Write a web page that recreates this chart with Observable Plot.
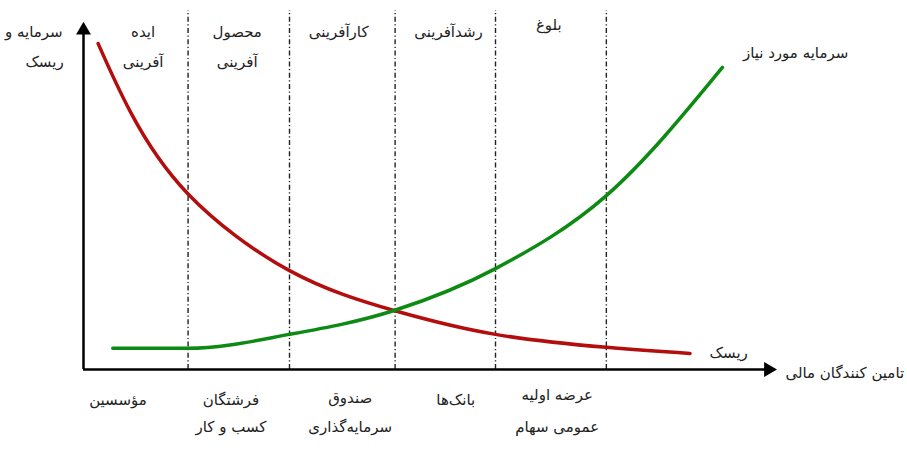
<!DOCTYPE html>
<html><head><meta charset="utf-8">
<script src="https://cdn.jsdelivr.net/npm/d3@7"></script>
<script src="https://cdn.jsdelivr.net/npm/@observablehq/plot@0.6"></script>
<style>body{margin:0;background:#fff;overflow:hidden}</style>
</head><body><div id="chart"></div>
<script>
// Risk curve (red)
const riskX = [0.14, 0.45, 1.00, 1.97, 2.97, 3.94, 5.00, 5.80];
const riskY = [9.56, 7.55, 5.15, 2.90, 1.73, 1.03, 0.65, 0.47];
// Required capital curve (green)
const capX = [0.28, 1.00, 1.97, 2.97, 3.94, 5.00, 6.11];
const capY = [0.62, 0.62, 1.03, 1.73, 2.96, 5.10, 8.86];
// Stage boundaries
const stageBounds = [1.00, 1.97, 2.98, 3.94, 5.00];
// Labels
const labelText = ["ایده", "آفرینی", "محصول", "آفرینی", "کارآفرینی", "رشدآفرینی", "بلوغ",
  "سرمایه مورد نیاز", "ریسک", "تامین کنندگان مالی",
  "مؤسسین", "فرشتگان", "کسب و کار", "صندوق", "سرمایه‌گذاری", "خطرپذیر", "بانک‌ها", "عرضه اولیه", "عمومی سهام"];
const labelX = [0.57, 0.57, 1.47, 1.47, 2.44, 3.49, 4.45,
  6.81, 6.17, 7.28,
  0.33, 1.41, 1.41, 2.55, 2.55, 2.55, 3.56, 4.53, 4.53];
const labelY = [9.88, 9.00, 9.88, 9.00, 9.88, 9.88, 10.09,
  9.27, 0.47, -0.12,
  -0.91, -0.91, -1.70, -0.85, -1.70, -2.55, -0.91, -0.76, -1.70];
const axisLabelText = ["سرمایه و", "ریسک"];
const axisLabelX = [-0.20, -0.19];
const axisLabelY = [9.88, 9.00];
const xAxisEnd = 6.55, yAxisEnd = 9.95;

const risk = riskX.map((x, i) => ({x, y: riskY[i]}));
const cap = capX.map((x, i) => ({x, y: capY[i]}));
const labels = labelText.map((t, i) => ({t, x: labelX[i], y: labelY[i]}));
const axisLabels = axisLabelText.map((t, i) => ({t, x: axisLabelX[i], y: axisLabelY[i]}));

const font = "DejaVu Sans";
const chart = Plot.plot({
  width: 907, height: 450,
  marginLeft: 83, marginRight: 0, marginTop: 10, marginBottom: 81,
  x: {domain: [0, 7.88], axis: null},
  y: {domain: [0, 10.53], axis: null},
  style: {fontFamily: font, background: "white"},
  marks: [
    Plot.ruleX(stageBounds, {y1: 0, y2: 10.53, stroke: "#222", strokeWidth: 1.4, strokeDasharray: "5,2.5,1.2,2.5"}),
    Plot.ruleY([0], {x1: 0, x2: xAxisEnd, stroke: "black", strokeWidth: 2.5}),
    Plot.ruleX([0], {y1: 0, y2: yAxisEnd, stroke: "black", strokeWidth: 2.5}),
    Plot.dot([{x: 0, y: yAxisEnd}], {x: "x", y: "y", symbol: "triangle", r: 5.5, fill: "black", stroke: null}),
    Plot.dot([{x: xAxisEnd, y: 0}], {x: "x", y: "y", symbol: "triangle", r: 5.5, fill: "black", stroke: null, rotate: 90}),
    Plot.line(risk, {x: "x", y: "y", curve: "natural", stroke: "#b30d0d", strokeWidth: 3.5}),
    Plot.line(cap, {x: "x", y: "y", curve: "monotone-x", stroke: "#0c8a12", strokeWidth: 3.5}),
    Plot.text(labels, {x: "x", y: "y", text: "t", fontSize: 15, fill: "#222", fontFamily: font}),
    Plot.text(axisLabels, {x: "x", y: "y", text: "t", fontSize: 15, fill: "#222", textAnchor: "end", fontFamily: font})
  ]
});
document.getElementById("chart").appendChild(chart);
</script>
</body></html>
